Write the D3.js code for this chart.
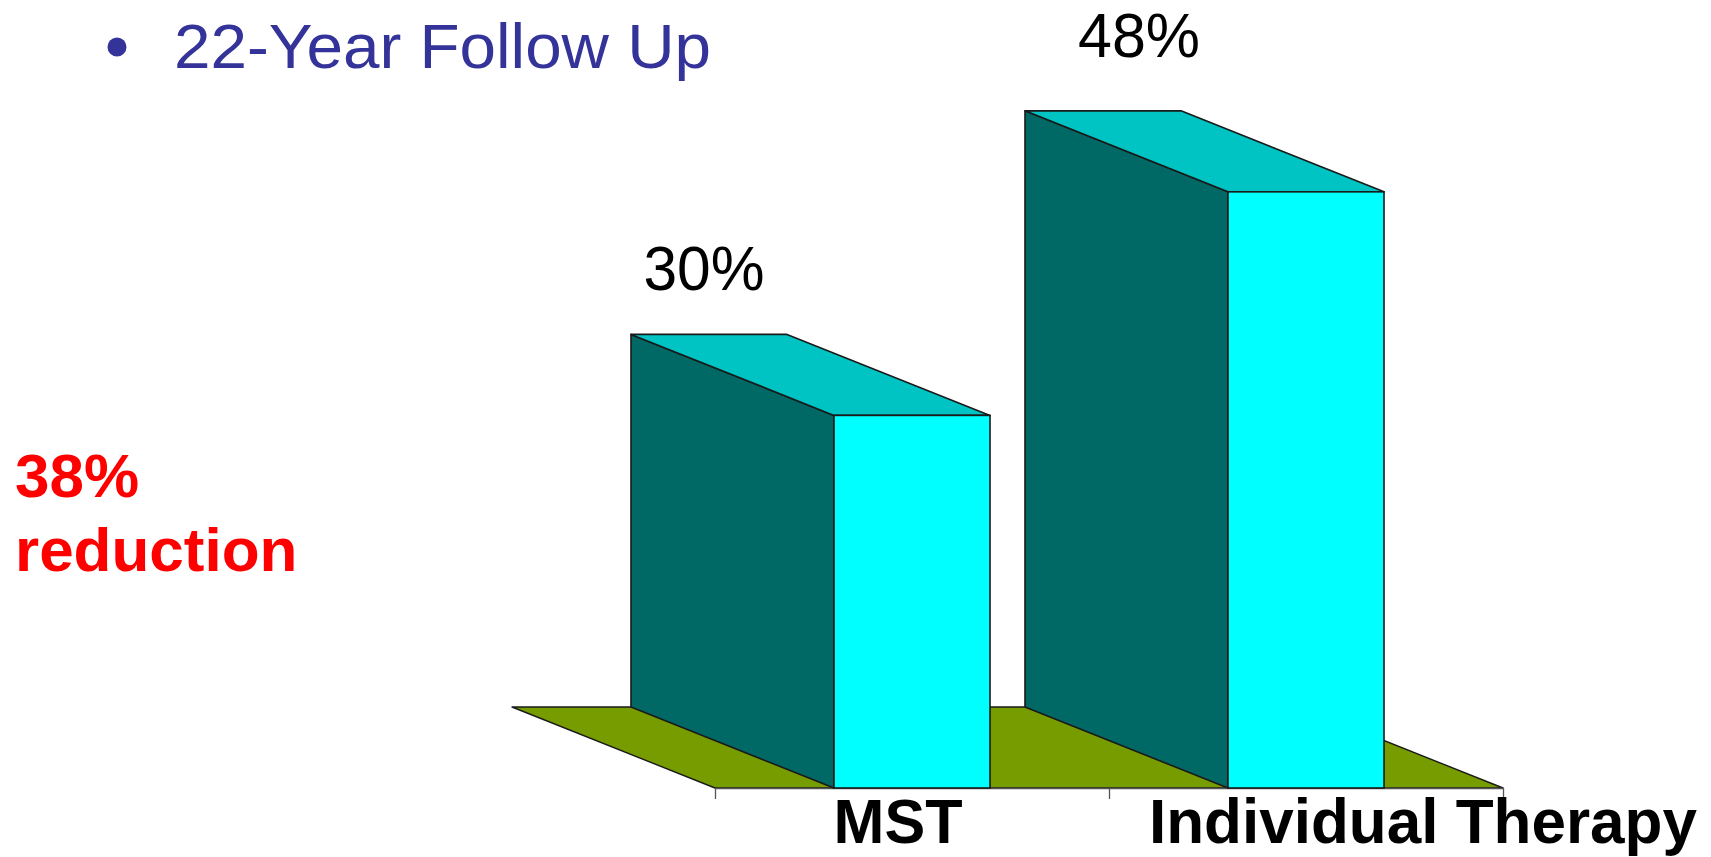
<!DOCTYPE html>
<html>
<head>
<meta charset="utf-8">
<script src="https://cdn.jsdelivr.net/npm/d3@7"></script>
<style>
  html, body { margin: 0; padding: 0; background: #ffffff; }
  svg { display: block; }
  text { font-family: "Liberation Sans", Arial, Helvetica, sans-serif; }
</style>
</head>
<body>
<svg id="chart" width="1711" height="857"></svg>
<script>
// Outcome data
const categories = ["MST", "Individual Therapy"];
const values = [30, 48];
const valueLabels = ["30%", "48%"];
const titleText = "22-Year Follow Up";
const noteLines = ["38%", "reduction"];

const W = 1711, H = 857;
const svg = d3.select("#chart");

// Plot geometry: front plane of the 3D box and its depth offset
const floorY = 788;
const plotLeft = 715, plotRight = 1503;
const depthX = 203, depthY = 81;

const x = d3.scaleBand().domain(categories).range([plotLeft, plotRight]).padding(0);
const barW = x.bandwidth() * 0.396;
const y = d3.scaleLinear().domain([0, 50]).range([floorY, floorY - 12.42 * 50]);

// Colours
const cFront = "#00ffff", cTop = "#00c4c4", cSide = "#006865";
const cFloor = "#779c00", cEdge = "#1a1a1a";

// Title with bullet
svg.append("circle")
  .attr("cx", 117).attr("cy", 47).attr("r", 9.5)
  .attr("fill", "#333399");
svg.append("text")
  .attr("x", 174).attr("y", 68)
  .attr("font-size", 63)
  .attr("fill", "#333399")
  .attr("textLength", 537)
  .attr("lengthAdjust", "spacingAndGlyphs")
  .text(titleText);

// Red note at the left
svg.selectAll("text.note")
  .data(noteLines)
  .join("text")
  .attr("class", "note")
  .attr("x", 15)
  .attr("y", (d, i) => 497 + i * 74)
  .attr("font-size", 62)
  .attr("font-weight", "bold")
  .attr("fill", "#ff0000")
  .text(d => d);

// Floor (parallelogram receding up-left)
const y0 = y(0);
const floorPts = [
  [plotLeft - depthX, y0 - depthY],
  [plotRight - depthX, y0 - depthY],
  [plotRight, y0],
  [plotLeft, y0]
];
svg.append("polygon")
  .attr("points", floorPts.map(p => p.join(",")).join(" "))
  .attr("fill", cFloor)
  .attr("stroke", cEdge)
  .attr("stroke-width", 1.4)
  .attr("stroke-linejoin", "round");

// Category axis below the floor
const xEdges = d3.scaleLinear().domain([0, categories.length]).range([plotLeft, plotRight]);
const axis = svg.append("g")
  .attr("transform", `translate(0,${y0})`)
  .call(d3.axisBottom(xEdges)
    .tickValues(d3.range(categories.length + 1))
    .tickFormat("")
    .tickSize(11)
    .tickSizeOuter(0));
axis.selectAll("path, line").attr("stroke", "#555").attr("stroke-width", 1.3);

// 3D bars
const rows = categories.map((c, i) => ({ c, v: values[i], label: valueLabels[i], i }));
const poly = pts => pts.map(p => p.join(",")).join(" ");

svg.selectAll("g.bar")
  .data(rows)
  .join("g")
  .attr("class", "bar")
  .each(function(d) {
    const g = d3.select(this);
    const x0 = x(d.c) + (x.bandwidth() - barW) / 2;
    const x1 = x0 + barW;
    const yt = y(d.v);

    // left side face
    g.append("polygon")
      .attr("points", poly([[x0 - depthX, yt - depthY], [x0, yt], [x0, y0], [x0 - depthX, y0 - depthY]]))
      .attr("fill", cSide).attr("stroke", cEdge).attr("stroke-width", 1.6).attr("stroke-linejoin", "round");
    // top face
    g.append("polygon")
      .attr("points", poly([[x0 - depthX, yt - depthY], [x1 - depthX, yt - depthY], [x1, yt], [x0, yt]]))
      .attr("fill", cTop).attr("stroke", cEdge).attr("stroke-width", 1.6).attr("stroke-linejoin", "round");
    // front face
    g.append("rect")
      .attr("x", x0).attr("y", yt)
      .attr("width", barW).attr("height", y0 - yt)
      .attr("fill", cFront).attr("stroke", cEdge).attr("stroke-width", 1.6);
  });

// Value labels above the back edge of each bar
const valueNudge = [[-5, -44], [36, -54]];
const valueWidth = [121, 122];
svg.selectAll("text.value")
  .data(rows)
  .join("text")
  .attr("class", "value")
  .attr("x", d => x(d.c) + x.bandwidth() / 2 - depthX + valueNudge[d.i][0])
  .attr("y", d => y(d.v) - depthY + valueNudge[d.i][1])
  .attr("text-anchor", "middle")
  .attr("font-size", 63)
  .attr("textLength", d => valueWidth[d.i])
  .attr("lengthAdjust", "spacingAndGlyphs")
  .attr("fill", "#000")
  .text(d => d.label);

// Category labels (kept clear of the bottom edge)
const catNudge = [-14, 117];
const catWidth = [129, 548];
svg.selectAll("text.cat")
  .data(rows)
  .join("text")
  .attr("class", "cat")
  .attr("x", d => x(d.c) + x.bandwidth() / 2 + catNudge[d.i])
  .attr("y", 843)
  .attr("text-anchor", "middle")
  .attr("font-size", 63)
  .attr("font-weight", "bold")
  .attr("textLength", d => catWidth[d.i])
  .attr("lengthAdjust", "spacingAndGlyphs")
  .attr("fill", "#000")
  .text(d => d.c);
</script>
</body>
</html>
